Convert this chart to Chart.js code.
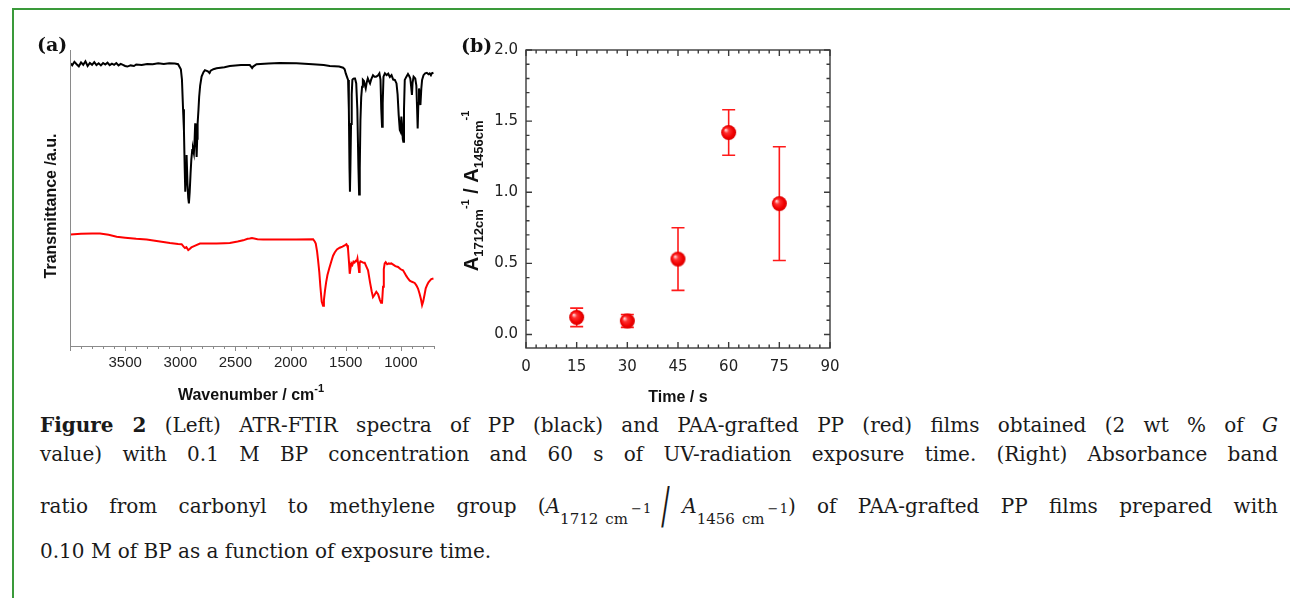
<!DOCTYPE html>
<html><head><meta charset="utf-8">
<script src="https://cdn.jsdelivr.net/npm/chart.js@4.4.0/dist/chart.umd.min.js"></script>
<style>
html,body{margin:0;padding:0;background:#fff;width:1290px;height:598px;overflow:hidden;position:relative;}
#frame{position:absolute;left:12px;top:8px;width:1300px;height:700px;border:2px solid #3a9a3a;box-sizing:border-box;}
#c1{position:absolute;left:30px;top:30px;}
#c2{position:absolute;left:440px;top:30px;}
.cap{position:absolute;left:40px;width:1238px;font-family:"DejaVu Serif",serif;font-size:20px;line-height:25px;color:#1a1a1a;text-align:justify;text-align-last:justify;}
.cap.last{text-align-last:left;}
.sb{font-size:15px;position:relative;top:11px;}
.sp{font-size:13px;position:relative;top:-11px;margin-left:3px;}
.bs{display:inline-block;font-size:50px;line-height:0;position:relative;top:10px;margin:0 8px 0 6px;transform:scaleX(0.5);font-weight:normal;}
</style></head>
<body>
<div id="frame"></div>
<canvas id="c1" width="420" height="380"></canvas>
<canvas id="c2" width="420" height="380"></canvas>
<div class="cap" style="top:413px"><b>Figure 2</b> (Left) ATR-FTIR spectra of PP (black) and PAA-grafted PP (red) films obtained (2 wt % of <i>G</i></div>
<div class="cap" style="top:442px">value) with 0.1 M BP concentration and 60 s of UV-radiation exposure time. (Right) Absorbance band</div>
<div class="cap" style="top:494px">ratio from carbonyl to methylene group (<i>A</i><span class="sb">1712<span style="margin-left:7px">cm</span><span class="sp">−&#8202;1</span></span><span class="bs">/</span><i>A</i><span class="sb">1456<span style="margin-left:7px">cm</span><span class="sp">−&#8202;1</span></span>) of PAA-grafted PP films prepared with</div>
<div class="cap last" style="top:539px">0.10 M of BP as a function of exposure time.</div>
<script>
// ---------- DATA ----------
// FTIR spectrum of PP (black): [wavenumber cm-1, transmittance a.u.]
const ppSpectrum = [
[3995,95.5],[3980,94.8],[3960,96.0],[3940,95.2],[3920,94.5],[3900,95.8],[3880,95.0],[3860,96.2],[3840,94.6],[3820,95.6],
[3800,95.0],[3780,95.9],[3760,94.9],[3740,95.5],[3720,94.8],[3700,95.6],[3680,95.1],[3660,95.7],[3640,94.9],[3620,95.4],
[3600,95.0],[3580,95.6],[3560,94.8],[3540,95.3],[3520,95.0],[3500,94.6],[3480,94.4],[3450,94.8],[3420,94.6],[3400,95.1],
[3350,94.9],[3300,95.3],[3250,95.2],[3200,95.5],[3150,95.3],[3100,95.5],[3050,95.4],[3020,95.2],[2995,93.5],[2985,90.0],
[2975,80],[2967,72.9],[2960,60],[2955,52.1],[2948,58],[2943,64.5],[2935,55],[2928,50],[2922,48.2],[2915,52],
[2907,58.3],[2900,63],[2892,66.2],[2885,66.5],[2877,65.1],[2870,70],[2865,75.2],[2858,70],[2852,63.9],[2847,70],
[2843,75.2],[2835,80],[2829,84.2],[2820,88],[2807,91.0],[2790,92.5],[2777,93.2],[2750,92.8],[2735,92.2],[2725,93.0],
[2700,93.5],[2671,93.8],[2600,94.2],[2551,94.6],[2450,94.9],[2370,94.9],[2355,94.2],[2349,93.9],[2340,94.4],[2309,95.2],
[2200,95.4],[2100,95.6],[1947,95.5],[1800,95.2],[1700,94.9],[1645,94.6],[1560,94.4],[1524,94.0],[1510,93.5],[1500,92.1],
[1485,90.5],[1479,89.9],[1472,80],[1466,60],[1462,52.1],[1458,60],[1452,75],[1446,85],[1440,89.9],[1434,90.2],
[1425,90.4],[1416,90.4],[1405,88.7],[1395,80],[1385,60],[1379,51.2],[1373,60],[1367,76.3],[1360,84],[1352,87.6],
[1345,89.9],[1335,89.5],[1328,88.3],[1319,87.0],[1310,89],[1300,90.4],[1290,89.5],[1280,88.7],[1270,90],[1253,91.5],
[1240,91],[1225,91.0],[1210,91.3],[1195,92.1],[1185,90],[1178,80],[1171,74.1],[1165,82],[1158,91.0],[1145,92.1],
[1130,91.5],[1115,92.0],[1100,90.9],[1085,91.5],[1070,90.0],[1055,89.9],[1040,88.7],[1030,85],[1020,78],[1010,73],
[1003,72.4],[996,77.5],[990,75],[983,70],[978,69.0],[972,80],[965,89.9],[950,91.0],[936,91.9],[925,91.2],
[915,90.4],[908,88],[900,84.8],[894,89],[885,91.0],[870,90.4],[860,88],[853,80],[848,73.5],[842,82],
[836,87.0],[830,85],[823,81.4],[815,87],[808,89.9],[795,91.5],[780,92.1],[765,92.3],[750,91.8],[739,92.1],
[728,91.5],[720,92.1],[705,92.3]
];
// FTIR spectrum of PAA-grafted PP (red)
const paaSpectrum = [
[3995,37.7],[3900,37.9],[3800,38.0],[3728,38.0],[3650,37.6],[3577,36.9],[3500,36.6],[3400,36.2],[3305,36.0],[3200,35.4],
[3094,34.8],[3020,34.5],[2988,34.4],[2970,33.6],[2958,33.1],[2945,33.4],[2928,32.4],[2915,32.8],[2900,33.3],[2870,33.8],
[2822,34.6],[2750,34.6],[2671,34.6],[2600,34.7],[2551,34.8],[2480,35.3],[2430,35.7],[2390,36.2],[2370,36.3],[2350,36.5],
[2300,36.1],[2249,36.0],[2100,36.0],[1950,36.0],[1796,36.1],[1780,35.2],[1772,34.6],[1760,32],[1751,29.0],[1740,25],
[1730,20.0],[1718,15],[1706,13.6],[1698,15.5],[1688,18.8],[1678,21.5],[1666,24.0],[1650,26.2],[1630,28.7],[1615,30.5],
[1600,31.6],[1580,32.6],[1555,33.2],[1530,33.6],[1506,34.1],[1494,34.4],[1488,34.0],[1480,33.0],[1470,28],[1464,24.4],
[1458,26],[1449,27.9],[1440,27.4],[1430,28.5],[1420,28.2],[1410,28.8],[1400,28.6],[1394,29.5],[1385,27],[1379,25.0],
[1374,28],[1367,28.6],[1355,28.4],[1340,28.1],[1328,28.1],[1315,27],[1298,25.6],[1280,21.5],[1265,18.5],[1253,16.5],
[1240,17.2],[1223,18.3],[1207,17.5],[1190,15.5],[1180,14.6],[1171,14.6],[1162,20],[1155,26],[1147,27.9],[1138,28.3],
[1125,27.6],[1110,27.9],[1100,27.8],[1087,27.9],[1070,27.5],[1050,27.0],[1026,26.7],[1005,26.0],[995,25.8],[981,25.6],
[965,24.6],[950,23.6],[936,22.8],[920,22.1],[900,21.7],[875,21.3],[860,20.5],[845,19.4],[830,17.6],[818,15.8],
[808,13.8],[798,15],[785,17.5],[775,19.5],[760,20.8],[750,21.5],[739,22.0],[725,22.6],[705,22.8]
];
const wavenumberTicks = [3500,3000,2500,2000,1500,1000];

// Panel (b): exposure time vs absorbance ratio
const exposureTimes = [15,30,45,60,75];
const ratioValues   = [0.12,0.095,0.53,1.42,0.92];
const ratioErrors   = [0.065,0.045,0.22,0.16,0.40];
const timeTicks  = [0,15,30,45,60,75,90];
const ratioTicks = [0.0,0.5,1.0,1.5,2.0];

// ---------- helpers ----------
function rich(ctx, parts, x, y, align){
  let w = 0;
  parts.forEach(p=>{ ctx.font = p.f; w += ctx.measureText(p.t).width; });
  let cx = align==='center' ? x - w/2 : x;
  ctx.textAlign='left'; ctx.textBaseline='alphabetic';
  parts.forEach(p=>{ ctx.font = p.f; ctx.fillText(p.t, cx, y + (p.dy||0)); cx += ctx.measureText(p.t).width; });
}
function makeSphere(r){
  const s = Math.ceil(2*r)+2, c = document.createElement('canvas');
  c.width = s; c.height = s;
  const g = c.getContext('2d'), m = s/2;
  const grad = g.createRadialGradient(m-r*0.4, m-r*0.35, r*0.05, m, m, r);
  grad.addColorStop(0,'#ffd6d6'); grad.addColorStop(0.3,'#ff3030'); grad.addColorStop(0.75,'#f00000'); grad.addColorStop(1,'#d80000');
  g.fillStyle = grad; g.beginPath(); g.arc(m,m,r,0,Math.PI*2); g.fill();
  return c;
}

// ---------- panel (a) ----------
const panelA = {
  id:'panelA',
  afterDraw(chart){
    const ctx = chart.ctx, ca = chart.chartArea, xs = chart.scales.x;
    ctx.save();
    ctx.strokeStyle = '#8a8a8a'; ctx.lineWidth = 1;
    ctx.beginPath();
    ctx.moveTo(ca.left+0.5, ca.top); ctx.lineTo(ca.left+0.5, ca.bottom+0.5);
    ctx.moveTo(ca.left, ca.bottom+0.5); ctx.lineTo(ca.right, ca.bottom+0.5);
    for(let v=700; v<=4000; v+=100){
      const px = Math.round(xs.getPixelForValue(v))+0.5;
      const len = (v%500===0) ? 5 : 3;
      ctx.moveTo(px, ca.bottom); ctx.lineTo(px, ca.bottom+len);
    }
    ctx.stroke();
    ctx.fillStyle = '#111';
    ctx.font = 'bold 19px "DejaVu Serif"'; ctx.textBaseline='middle'; ctx.textAlign='left';
    ctx.fillText('(a)', 7, 16);
    ctx.save();
    ctx.translate(26, 176); ctx.rotate(-Math.PI/2);
    ctx.font = 'bold 16px "Liberation Sans"'; ctx.textAlign='center'; ctx.textBaseline='alphabetic';
    ctx.fillText('Transmittance /a.u.', 0, 0);
    ctx.restore();
    rich(ctx, [
      {t:'Wavenumber / cm', f:'bold 16px "Liberation Sans"'},
      {t:'-1', f:'bold 11px "Liberation Sans"', dy:-8}
    ], 221, 370, 'center');
    ctx.restore();
  }
};

new Chart(document.getElementById('c1'), {
  type:'line',
  data:{datasets:[
    {label:'PP', data: ppSpectrum.map(([x,y])=>({x,y})), borderColor:'#000', borderWidth:2, pointRadius:0, tension:0},
    {label:'PAA-grafted PP', data: paaSpectrum.map(([x,y])=>({x,y})), borderColor:'#ff0000', borderWidth:2, pointRadius:0, tension:0}
  ]},
  options:{
    responsive:false, animation:false, devicePixelRatio:1,
    layout:{padding:{left:0,right:16,top:20,bottom:0}},
    plugins:{legend:{display:false}, tooltip:{enabled:false}},
    scales:{
      x:{type:'linear', reverse:true, min:700, max:4000,
         afterBuildTicks:s=>{ s.ticks = wavenumberTicks.map(v=>({value:v})); },
         ticks:{padding:8, color:'#222', font:{family:'Liberation Sans', size:15}, maxRotation:0, autoSkip:false, callback:v=>String(v)},
         grid:{display:false, drawTicks:false}, border:{display:false},
         afterFit:s=>{ s.height = 64; }},
      y:{type:'linear', min:0, max:100, ticks:{display:false}, grid:{display:false, drawTicks:false}, border:{display:false},
         afterFit:s=>{ s.width = 40; }}
    }
  },
  plugins:[panelA]
});

// ---------- panel (b) ----------
const panelB = {
  id:'panelB',
  beforeDatasetsDraw(chart){
    const ctx = chart.ctx, xs = chart.scales.x, ys = chart.scales.y;
    ctx.save(); ctx.strokeStyle = '#ff1a1a'; ctx.lineWidth = 1.6;
    ctx.beginPath();
    exposureTimes.forEach((t,i)=>{
      const px = xs.getPixelForValue(t);
      const yt = ys.getPixelForValue(ratioValues[i]+ratioErrors[i]);
      const yb = ys.getPixelForValue(ratioValues[i]-ratioErrors[i]);
      ctx.moveTo(px, yt); ctx.lineTo(px, yb);
      ctx.moveTo(px-6.5, yt); ctx.lineTo(px+6.5, yt);
      ctx.moveTo(px-6.5, yb); ctx.lineTo(px+6.5, yb);
    });
    ctx.stroke(); ctx.restore();
  },
  afterDraw(chart){
    const ctx = chart.ctx, ca = chart.chartArea, xs = chart.scales.x, ys = chart.scales.y;
    ctx.save();
    ctx.strokeStyle = '#3a3a3a'; ctx.lineWidth = 1.4;
    ctx.strokeRect(ca.left, ca.top, ca.right-ca.left, ca.bottom-ca.top);
    ctx.beginPath();
    for(let v=0; v<=90; v+=3){
      const px = xs.getPixelForValue(v);
      const len = (v%15===0) ? 6 : 3.5;
      ctx.moveTo(px, ca.bottom); ctx.lineTo(px, ca.bottom-len);
      ctx.moveTo(px, ca.top); ctx.lineTo(px, ca.top+len);
    }
    for(let i=0; i<=20; i++){
      const py = ys.getPixelForValue(i/10);
      const len = (i%5===0) ? 6 : 3.5;
      ctx.moveTo(ca.left, py); ctx.lineTo(ca.left+len, py);
      ctx.moveTo(ca.right, py); ctx.lineTo(ca.right-len, py);
    }
    ctx.stroke();
    ctx.fillStyle = '#111';
    ctx.font = 'bold 19px "DejaVu Serif"'; ctx.textBaseline='middle'; ctx.textAlign='left';
    ctx.fillText('(b)', 21, 17);
    rich(ctx, [{t:'Time / s', f:'bold 16px "Liberation Sans"'}], 238, 372, 'center');
    ctx.save();
    ctx.translate(38, 161); ctx.rotate(-Math.PI/2);
    rich(ctx, [
      {t:'A', f:'bold 20px "Liberation Sans"'},
      {t:'1712cm', f:'bold 13px "Liberation Sans"', dy:5},
      {t:'-1', f:'bold 11px "Liberation Sans"', dy:-9},
      {t:' / A', f:'bold 20px "Liberation Sans"'},
      {t:'1456cm', f:'bold 13px "Liberation Sans"', dy:5},
      {t:'-1', f:'bold 11px "Liberation Sans"', dy:-9}
    ], 0, 0, 'center');
    ctx.restore();
    ctx.restore();
  }
};

new Chart(document.getElementById('c2'), {
  type:'scatter',
  data:{datasets:[{label:'ratio', data: exposureTimes.map((t,i)=>({x:t, y:ratioValues[i]})),
    pointStyle: makeSphere(7.5), pointRadius:7.5, borderWidth:0, backgroundColor:'#f00'}]},
  options:{
    responsive:false, animation:false, devicePixelRatio:1,
    layout:{padding:{left:0,right:30,top:20,bottom:0}},
    plugins:{legend:{display:false}, tooltip:{enabled:false}},
    scales:{
      x:{type:'linear', min:0, max:90,
         afterBuildTicks:s=>{ s.ticks = timeTicks.map(v=>({value:v})); },
         ticks:{padding:10, color:'#222', font:{family:'DejaVu Sans', size:15}, maxRotation:0, autoSkip:false},
         grid:{display:false, drawTicks:false}, border:{display:false},
         afterFit:s=>{ s.height = 62; }},
      y:{type:'linear', min:-0.095, max:2.0,
         afterBuildTicks:s=>{ s.ticks = ratioTicks.map(v=>({value:v})); },
         ticks:{padding:8, color:'#222', font:{family:'DejaVu Sans', size:15}, callback:v=>Number(v).toFixed(1)},
         grid:{display:false, drawTicks:false}, border:{display:false},
         afterFit:s=>{ s.width = 86; }}
    }
  },
  plugins:[panelB]
});
</script>
</body></html>
